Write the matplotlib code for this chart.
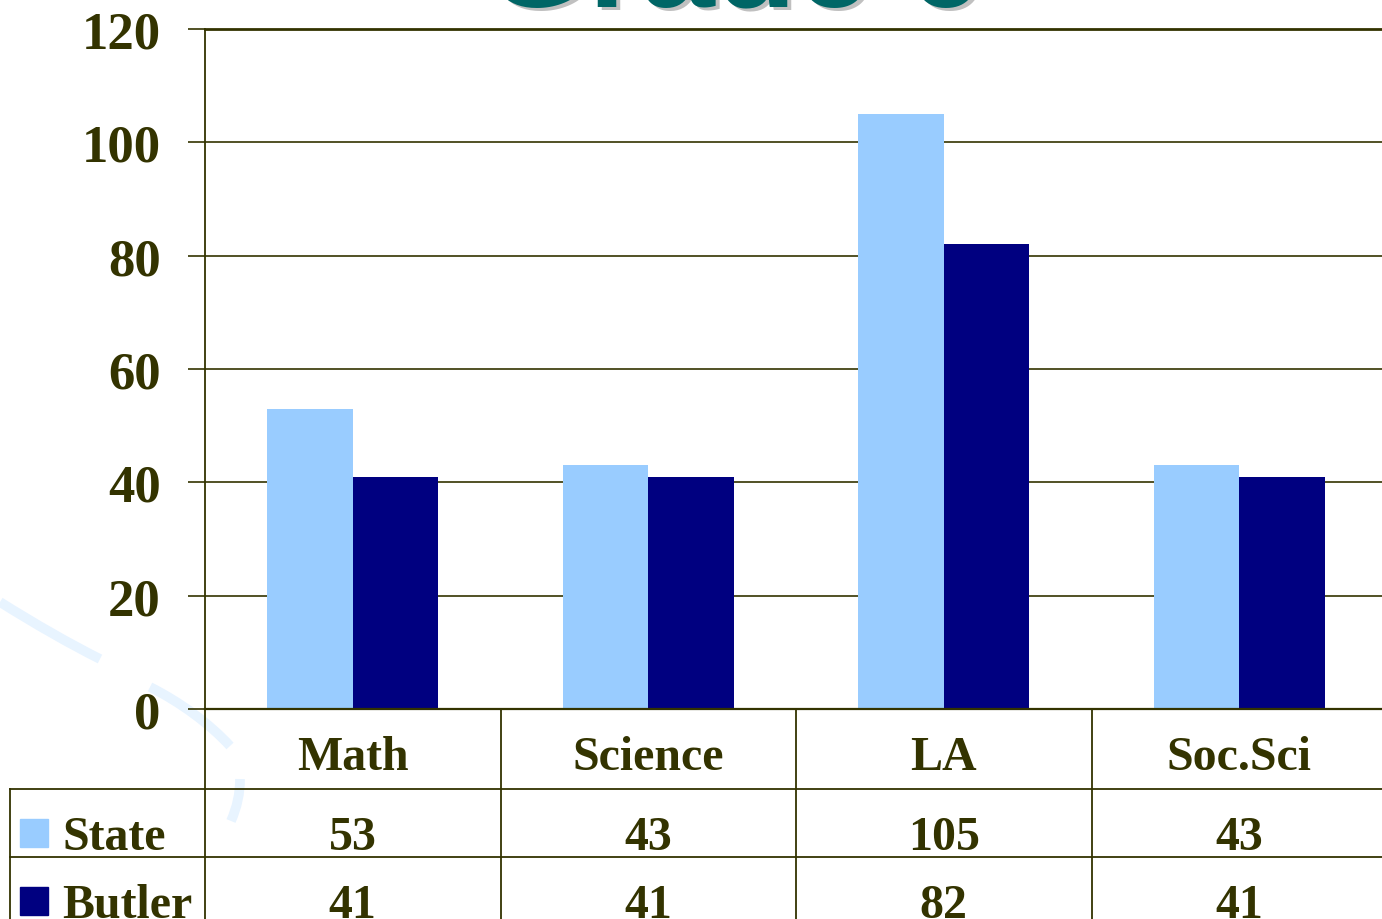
import matplotlib
matplotlib.use("Agg")
import matplotlib.pyplot as plt
import matplotlib.transforms as mtransforms
import numpy as np
from matplotlib.patches import PathPatch, Rectangle
from matplotlib.path import Path

CATEGORIES = ["Math", "Science", "LA", "Soc.Sci"]
SERIES = ["State", "Butler"]
STATE = [53, 43, 105, 43]
BUTLER = [41, 41, 82, 41]
YTICKS = [0, 20, 40, 60, 80, 100, 120]
TITLE = "Grade 6"

COLORS = ["#99CCFF", "#000080"]
INK = "#333300"
W, H = 1382, 920


def fx(px):
    return px / W


def fy(py):
    return 1 - py / H


plt.rcParams["font.family"] = ["Liberation Serif", "DejaVu Serif"]
plt.rcParams["font.weight"] = "bold"

fig = plt.figure(figsize=(W / 100, H / 100), dpi=100)

# faint decorative swoosh behind the chart (three strokes along one curve)
strokes = [
    [(0, 603), (35, 625), (70, 645), (100, 660)],
    [(150, 688), (180, 703), (210, 725), (230, 747)],
    [(240, 780), (240, 795), (237, 808), (231, 822)],
]
for pts in strokes:
    p = Path([(fx(a), fy(b)) for a, b in pts],
             [Path.MOVETO, Path.CURVE4, Path.CURVE4, Path.CURVE4])
    fig.add_artist(PathPatch(p, transform=fig.transFigure, fill=False,
                             lw=7, ec="#E8F4FF", capstyle="butt", zorder=0))

# title, mostly cut off by the top edge
fig.text(fx(737), fy(9), TITLE, ha="center", va="baseline", fontsize=96,
         family="Liberation Sans", weight="bold", color="#C0C0C0", zorder=1)
fig.text(fx(733), fy(6), TITLE, ha="center", va="baseline", fontsize=96,
         family="Liberation Sans", weight="bold", color="#006666", zorder=2)

ax = fig.add_axes([fx(205), fy(710), (1387 - 205) / W, (710 - 30) / H])
ax.patch.set_alpha(0)

x = np.arange(len(CATEGORIES))
bw = 0.29
ax.bar(x - bw / 2, STATE, bw, color=COLORS[0], zorder=3)
ax.bar(x + bw / 2, BUTLER, bw, color=COLORS[1], zorder=3)

ax.set_xlim(-0.5, len(CATEGORIES) - 0.5)
ax.set_ylim(0, 120)
ax.set_yticks(YTICKS)
ax.set_xticks([])
ax.yaxis.grid(True, color=INK, lw=1.2)
ax.set_axisbelow(True)
ax.axhline(0, color=INK, lw=1.6, clip_on=False, zorder=4)
ax.tick_params(axis="y", length=12, width=1.2, color=INK, pad=20,
               labelsize=38, labelcolor=INK)
ax.spines["right"].set_visible(False)
ax.spines["bottom"].set_visible(False)
ax.spines["left"].set_color(INK)
ax.spines["left"].set_linewidth(1.3)
ax.spines["top"].set_color(INK)
ax.spines["top"].set_linewidth(2.0)

# data table under the chart
tr = mtransforms.blended_transform_factory(ax.transData, fig.transFigure)
for i in range(len(CATEGORIES) + 1):
    ax.plot([i - 0.5, i - 0.5], [fy(710), fy(925)], transform=tr, color=INK,
            lw=1.3, clip_on=False)
for py in (790, 858):
    fig.add_artist(plt.Line2D([fx(10), 1], [fy(py), fy(py)], color=INK, lw=1.3))
fig.add_artist(plt.Line2D([fx(10), fx(10)], [fy(790), fy(925)], color=INK, lw=1.3))

for i, cat in enumerate(CATEGORIES):
    ax.text(i, fy(770), cat, transform=tr, ha="center", va="baseline",
            fontsize=34.5, color=INK, clip_on=False)

rows = [STATE, BUTLER]
for r, (name, vals, col) in enumerate(zip(SERIES, rows, COLORS)):
    base = 850 + 68 * r
    fig.add_artist(Rectangle((fx(20), fy(base - 2)), 28 / W, 28 / H,
                             transform=fig.transFigure, color=col))
    fig.text(fx(62), fy(base), name, ha="left", va="baseline", fontsize=34.5,
             color=INK)
    for i, v in enumerate(vals):
        ax.text(i, fy(base), str(v), transform=tr, ha="center", va="baseline",
                fontsize=34.5, color=INK, clip_on=False)

fig.savefig("out.png", dpi=100)
